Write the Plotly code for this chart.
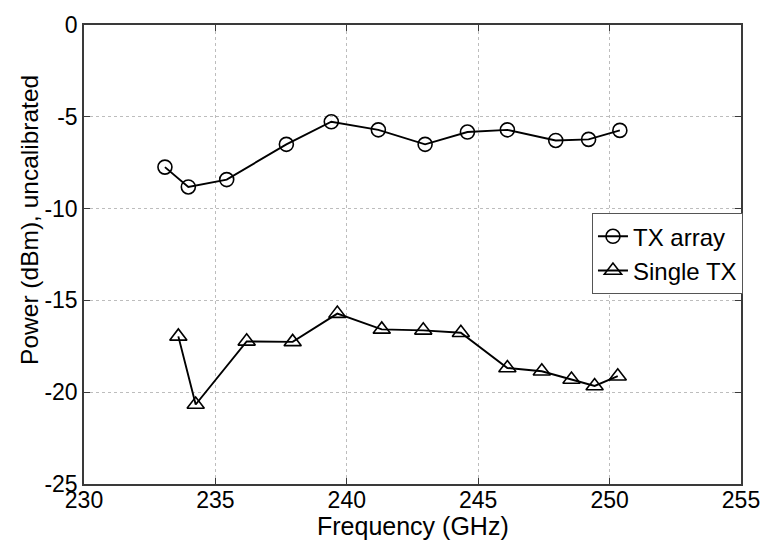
import plotly.graph_objects as go

# Measured output power of the TX array versus a single transmitter
freq_array_ghz = [233.08, 233.97, 235.43, 237.70, 239.41, 241.20, 242.98,
                  244.59, 246.11, 247.95, 249.20, 250.39]
power_array_dbm = [-7.74, -8.82, -8.42, -6.50, -5.27, -5.71, -6.50,
                   -5.83, -5.71, -6.29, -6.23, -5.74]

freq_single_ghz = [233.59, 234.25, 236.19, 237.94, 239.64, 241.33, 242.91,
                   244.34, 246.11, 247.42, 248.55, 249.43, 250.31]
power_single_dbm = [-16.96, -20.67, -17.23, -17.26, -15.72, -16.58, -16.63,
                    -16.76, -18.68, -18.86, -19.31, -19.66, -19.13]

x_ticks = [230, 235, 240, 245, 250, 255]
y_ticks = [0, -5, -10, -15, -20, -25]

FONT = "Liberation Sans, Arial, Helvetica, sans-serif"

fig = go.Figure()
fig.add_trace(go.Scatter(
    x=freq_array_ghz, y=power_array_dbm, name="TX array",
    mode="lines+markers",
    line=dict(color="black", width=1.9),
    marker=dict(symbol="circle-open", size=14, color="black",
                line=dict(width=1.6, color="black")),
))
fig.add_trace(go.Scatter(
    x=freq_single_ghz, y=power_single_dbm, name="Single TX",
    mode="lines+markers",
    line=dict(color="black", width=1.9),
    marker=dict(symbol="triangle-up-open", size=15, color="black",
                line=dict(width=1.6, color="black")),
))

axis_common = dict(
    showline=True, linecolor="#3a3a3a", linewidth=1.5, mirror="ticks",
    ticks="inside", ticklen=6, tickcolor="#3a3a3a", tickwidth=1,
    showgrid=True, gridcolor="#bdbdbd", gridwidth=1, griddash="dot",
    zeroline=False,
    tickfont=dict(family=FONT, size=23, color="black"),
)

fig.update_xaxes(range=[230, 255], tickvals=x_ticks,
                 ticktext=[str(v) for v in x_ticks],
                 ticklabelstandoff=-5, **axis_common)
fig.update_yaxes(range=[-25, 0], tickvals=y_ticks,
                 ticktext=[str(v) for v in y_ticks], **axis_common)

fig.add_annotation(text="Frequency (GHz)", xref="paper", yref="paper",
                   x=0.5, y=-0.091, xanchor="center", yanchor="middle",
                   showarrow=False,
                   font=dict(family=FONT, size=25, color="black"))
fig.add_annotation(text="Power (dBm), uncalibrated", xref="paper", yref="paper",
                   x=-0.084, y=0.575, xanchor="center", yanchor="middle",
                   textangle=-90, showarrow=False,
                   font=dict(family=FONT, size=24.5, color="black"))

fig.update_layout(
    width=772, height=542,
    margin=dict(l=84, r=24, t=20, b=58),
    paper_bgcolor="white", plot_bgcolor="white",
    showlegend=True,
    legend=dict(x=1.003, y=0.59, xanchor="right", yanchor="top",
                bgcolor="white", bordercolor="#555555", borderwidth=1,
                font=dict(family=FONT, size=24, color="black"),
                itemwidth=30, tracegroupgap=0),
)

fig.write_html("out.html")
